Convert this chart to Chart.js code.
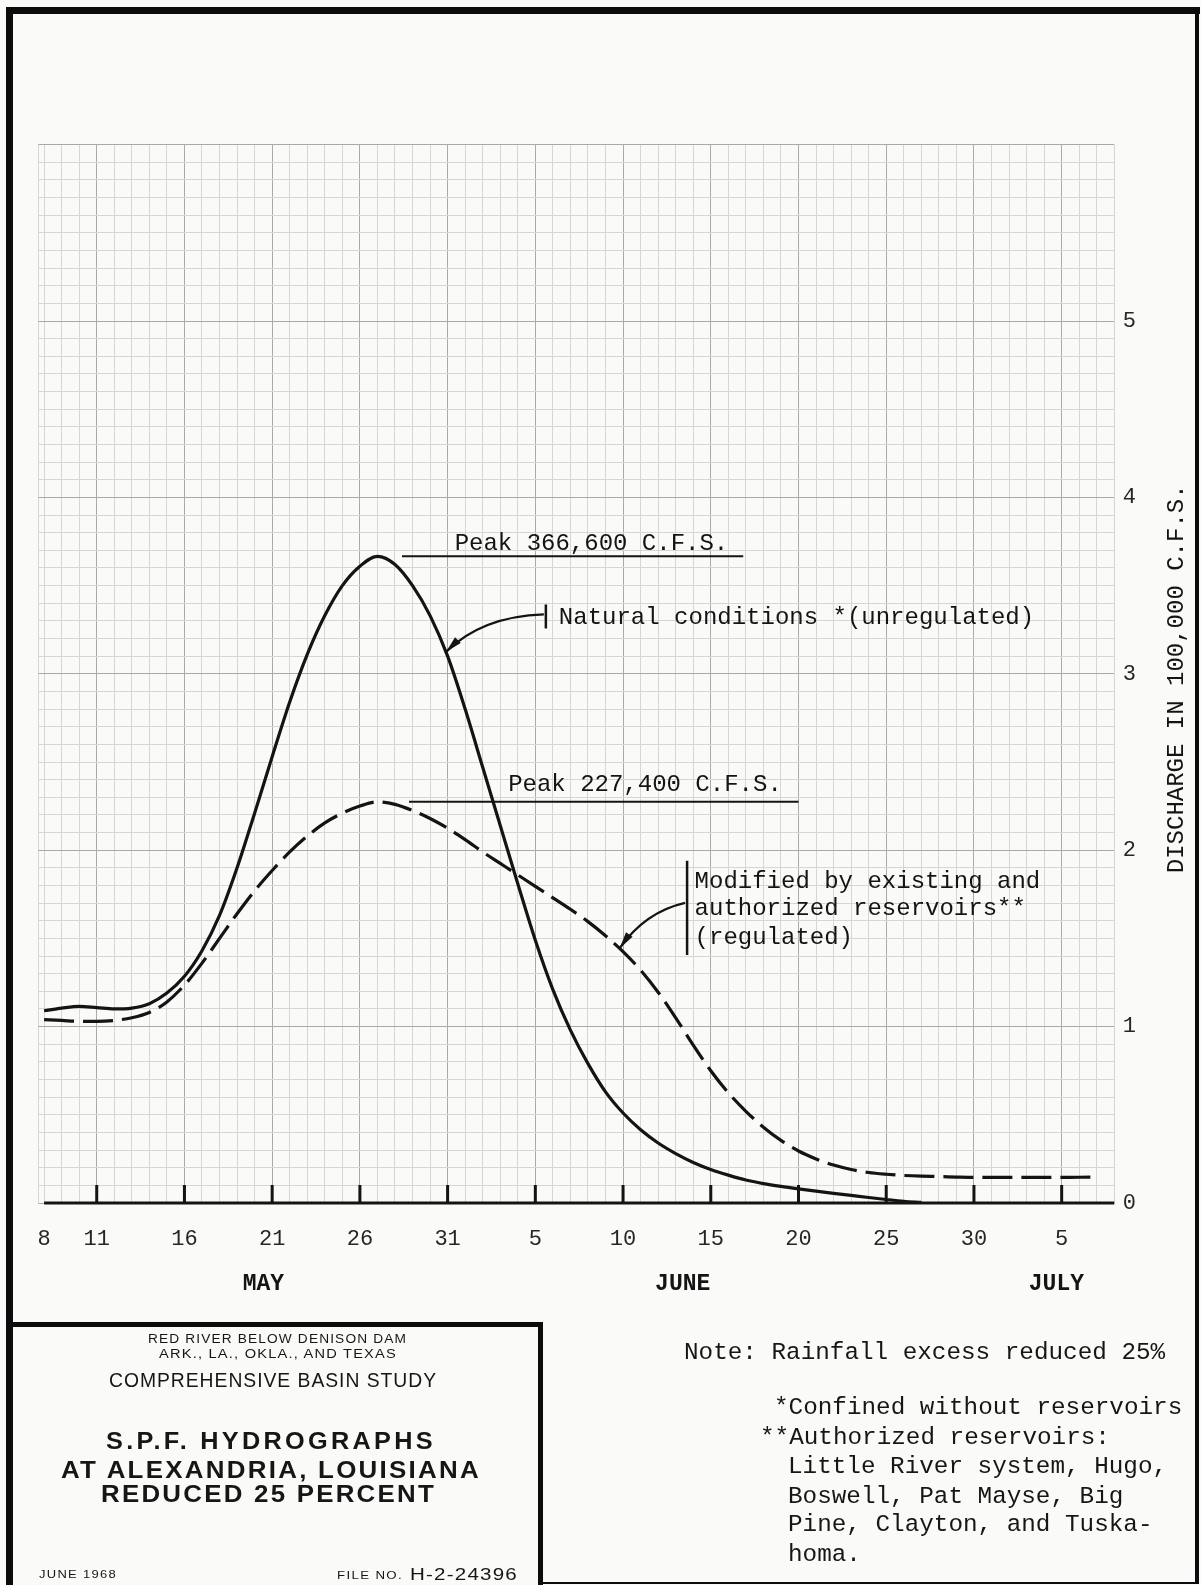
<!DOCTYPE html>
<html>
<head>
<meta charset="utf-8">
<title>S.P.F. Hydrographs at Alexandria, Louisiana</title>
<script src="https://cdn.jsdelivr.net/npm/chart.js@4.4.1/dist/chart.umd.min.js"></script>
<style>
  html, body { margin: 0; padding: 0; background: #fafaf8; }
  #page { position: relative; width: 1201px; height: 1585px; overflow: hidden; }
  #chart { position: absolute; left: 0; top: 0; }
  .txt { position: absolute; white-space: pre; line-height: 1; color: #161616; transform-origin: 0 50%; }
  .lbl { font-family: "Liberation Sans", Arial, sans-serif; }
  .typ { font-family: "Liberation Mono", "Courier New", monospace; font-size: 24.3px; }
</style>
</head>
<body>
<div id="page">
  <canvas id="chart" width="1201" height="1585"></canvas>

  <!-- title block -->
  <div class="txt lbl" data-w="259" style="left:148px; top:1333px; font-size:12px; letter-spacing:1px;">RED RIVER BELOW DENISON DAM</div>
  <div class="txt lbl" data-w="238" style="left:159px; top:1348px; font-size:12px; letter-spacing:1px;">ARK., LA., OKLA., AND TEXAS</div>
  <div class="txt lbl" data-w="328" style="left:109px; top:1370px; font-size:20px; letter-spacing:1px;">COMPREHENSIVE BASIN STUDY</div>
  <div class="txt lbl" data-w="330" style="left:106px; top:1430px; font-size:23px; font-weight:bold; letter-spacing:3px;">S.P.F. HYDROGRAPHS</div>
  <div class="txt lbl" data-w="420" style="left:61px; top:1459px; font-size:23px; font-weight:bold; letter-spacing:2px;">AT ALEXANDRIA, LOUISIANA</div>
  <div class="txt lbl" data-w="335" style="left:101px; top:1483px; font-size:23px; font-weight:bold; letter-spacing:2px;">REDUCED 25 PERCENT</div>
  <div class="txt lbl" data-w="78" style="left:39px; top:1570px; font-size:10px; letter-spacing:1px;">JUNE 1968</div>
  <div class="txt lbl" data-w="66" style="left:337px; top:1571px; font-size:10px; letter-spacing:1px;">FILE NO.</div>
  <div class="txt lbl" data-w="108" style="left:410px; top:1566px; font-size:17px; letter-spacing:1px;">H-2-24396</div>

  <!-- notes -->
  <div class="txt typ" style="left:684px; top:1341px;">Note: Rainfall excess reduced 25%</div>
  <div class="txt typ" style="left:774px; top:1396px;">*Confined without reservoirs</div>
  <div class="txt typ" style="left:760px; top:1426px;">**Authorized reservoirs:</div>
  <div class="txt typ" style="left:788px; top:1455px;">Little River system, Hugo,</div>
  <div class="txt typ" style="left:788px; top:1485px;">Boswell, Pat Mayse, Big</div>
  <div class="txt typ" style="left:788px; top:1513px;">Pine, Clayton, and Tuska-</div>
  <div class="txt typ" style="left:788px; top:1543px;">homa.</div>
</div>

<script>
// x axis: days counted from May 8
const tickDays   = [0, 3, 8, 13, 18, 23, 28, 33, 38, 43, 48, 53, 58];
const tickLabels = ['8', '11', '16', '21', '26', '31', '5', '10', '15', '20', '25', '30', '5'];
const monthNames = ['MAY', 'JUNE', 'JULY'];
const monthDays  = [12.5, 36.4, 57.7];
const dischargeTicks = [0, 1, 2, 3, 4, 5];

// discharge in 100,000 c.f.s., one value per day from May 8
const naturalFlow = [
  1.09, 1.105, 1.115, 1.108, 1.10, 1.105, 1.13, 1.19, 1.285, 1.43,
  1.63, 1.90, 2.21, 2.53, 2.84, 3.11, 3.33, 3.50, 3.61, 3.666,
  3.62, 3.50, 3.33, 3.10, 2.80, 2.47, 2.14, 1.81, 1.49, 1.21,
  0.98, 0.79, 0.63, 0.51, 0.415, 0.34, 0.28, 0.23, 0.19, 0.158,
  0.13, 0.11, 0.094, 0.08, 0.067, 0.055, 0.043, 0.031, 0.02, 0.01,
  0.003
];
const regulatedFlow = [
  1.04, 1.035, 1.03, 1.03, 1.035, 1.05, 1.08, 1.14, 1.235, 1.36,
  1.50, 1.64, 1.77, 1.885, 1.99, 2.08, 2.155, 2.21, 2.25, 2.274,
  2.26, 2.225, 2.18, 2.125, 2.06, 1.99, 1.925, 1.86, 1.795, 1.73,
  1.665, 1.595, 1.515, 1.425, 1.32, 1.195, 1.05, 0.895, 0.75, 0.625,
  0.52, 0.43, 0.355, 0.295, 0.25, 0.215, 0.19, 0.173, 0.163, 0.156,
  0.152, 0.15, 0.147, 0.145, 0.145, 0.145, 0.145, 0.145, 0.145, 0.146,
  0.148
];

const dayMin = -0.33, dayMax = 61, flowMax = 6;
const INK = '#141414';
const MONO = '"Liberation Mono", "Courier New", monospace';

const fmtCfs = v => Math.round(v * 100000).toLocaleString('en-US');

function flowAt(series, day) {
  const i = Math.floor(day), f = day - i;
  return series[i] + (series[i + 1] - series[i]) * f;
}

function arrow(ctx, x0, y0, cx, cy, x1, y1) {
  ctx.beginPath();
  ctx.moveTo(x0, y0);
  ctx.quadraticCurveTo(cx, cy, x1, y1);
  ctx.stroke();
  const a = Math.atan2(y1 - cy, x1 - cx);
  const len = 17, half = 4;
  ctx.beginPath();
  ctx.moveTo(x1, y1);
  ctx.lineTo(x1 - len * Math.cos(a) + half * Math.sin(a), y1 - len * Math.sin(a) - half * Math.cos(a));
  ctx.lineTo(x1 - len * Math.cos(a) - half * Math.sin(a), y1 - len * Math.sin(a) + half * Math.cos(a));
  ctx.closePath();
  ctx.fill();
}

function line(ctx, x0, y0, x1, y1, w) {
  ctx.lineWidth = w;
  ctx.beginPath();
  ctx.moveTo(x0, y0);
  ctx.lineTo(x1, y1);
  ctx.stroke();
}

// axis line, hand ticks, labels, peak notes and the sheet border
const paperExtras = {
  id: 'paperExtras',
  afterDraw(chart) {
    const { ctx, chartArea, scales: { x, y } } = chart;
    const y0 = y.getPixelForValue(0);
    ctx.save();
    ctx.strokeStyle = INK;
    ctx.fillStyle = INK;
    ctx.lineCap = 'butt';

    // base line and ticks
    line(ctx, x.getPixelForValue(0), y0, x.getPixelForValue(dayMax), y0, 3);
    tickDays.forEach(d => {
      if (d === 0) return;
      const px = x.getPixelForValue(d);
      line(ctx, px, y0, px, y0 - 18, 3);
    });

    ctx.textAlign = 'center';
    ctx.textBaseline = 'middle';
    ctx.font = '22px ' + MONO;
    ctx.fillStyle = '#262626';
    tickDays.forEach((d, i) => ctx.fillText(tickLabels[i], x.getPixelForValue(d), y0 + 36));

    ctx.fillStyle = INK;
    ctx.font = 'bold 23px ' + MONO;
    monthDays.forEach((d, i) => ctx.fillText(monthNames[i], x.getPixelForValue(d), y0 + 81));

    ctx.font = '22px ' + MONO;
    ctx.fillStyle = '#262626';
    dischargeTicks.forEach(v => ctx.fillText(String(v), chartArea.right + 15, y.getPixelForValue(v)));

    ctx.save();
    ctx.fillStyle = INK;
    ctx.font = '24px ' + MONO;
    ctx.translate(chartArea.right + 62, (chartArea.top + chartArea.bottom) / 2 + 5);
    ctx.rotate(-Math.PI / 2);
    ctx.fillText('DISCHARGE IN 100,000 C.F.S.', 0, 0);
    ctx.restore();

    // peak notes
    ctx.fillStyle = INK;
    ctx.font = '24px ' + MONO;
    ctx.textAlign = 'left';
    const natPeak = Math.max(...naturalFlow);
    const regPeak = Math.max(...regulatedFlow);
    const pn = y.getPixelForValue(natPeak);
    line(ctx, x.getPixelForValue(20.4), pn, x.getPixelForValue(39.85), pn, 2);
    ctx.fillText('Peak ' + fmtCfs(natPeak) + ' C.F.S.', x.getPixelForValue(23.4), pn - 13);
    const pr = y.getPixelForValue(regPeak);
    line(ctx, x.getPixelForValue(20.8), pr, x.getPixelForValue(43.0), pr, 2);
    ctx.fillText('Peak ' + fmtCfs(regPeak) + ' C.F.S.', x.getPixelForValue(26.45), pr - 17);

    // natural conditions callout
    let bx = x.getPixelForValue(28.6), by = y.getPixelForValue(3.325);
    line(ctx, bx, by - 12, bx, by + 12, 2.5);
    ctx.lineWidth = 2.2;
    arrow(ctx, bx - 2, by - 2, bx - 64, by, x.getPixelForValue(22.9), y.getPixelForValue(flowAt(naturalFlow, 22.9)));
    ctx.fillText('Natural conditions *(unregulated)', bx + 13, by + 1);

    // regulated callout
    bx = x.getPixelForValue(36.65);
    const top = y.getPixelForValue(1.94), bot = y.getPixelForValue(1.406);
    by = (top + bot) / 2;
    line(ctx, bx, top, bx, bot, 2.5);
    ctx.lineWidth = 2.2;
    arrow(ctx, bx - 2, by - 5, bx - 42, by + 4, x.getPixelForValue(32.8), y.getPixelForValue(flowAt(regulatedFlow, 32.8)));
    ctx.fillText('Modified by existing and', bx + 7.5, by - 26.5);
    ctx.fillText('authorized reservoirs**', bx + 7.5, by + 1);
    ctx.fillText('(regulated)', bx + 7.5, by + 30);

    // sheet border and title block frame
    ctx.fillStyle = '#0c0c0c';
    ctx.fillRect(6, 7, 1194, 7);
    ctx.fillRect(6, 7, 7, 1578);
    ctx.fillRect(1195, 7, 4, 1576);
    ctx.fillRect(540, 1582, 659, 2);
    ctx.fillRect(10, 1322, 533, 5);
    ctx.fillRect(538, 1322, 5, 263);
    ctx.restore();
  }
};

const minorGrid = '#d6d6d6';
const majorGrid = '#a9a9a9';

new Chart(document.getElementById('chart').getContext('2d'), {
  type: 'line',
  data: {
    datasets: [
      {
        label: 'Natural conditions',
        data: naturalFlow.map((v, i) => ({ x: i, y: v })),
        borderColor: INK,
        borderWidth: 3.2,
        pointRadius: 0,
        cubicInterpolationMode: 'monotone'
      },
      {
        label: 'Modified by reservoirs',
        data: regulatedFlow.map((v, i) => ({ x: i, y: v })),
        borderColor: INK,
        borderWidth: 3.2,
        borderDash: [30, 9],
        pointRadius: 0,
        cubicInterpolationMode: 'monotone'
      }
    ]
  },
  options: {
    responsive: false,
    animation: false,
    layout: { padding: { left: 38.3, top: 144.6, right: 86.7, bottom: 382 } },
    plugins: { legend: { display: false }, tooltip: { enabled: false } },
    scales: {
      x: {
        type: 'linear',
        min: dayMin,
        max: dayMax,
        afterBuildTicks: s => {
          const t = [{ value: dayMin }];
          for (let d = 0; d <= dayMax; d++) t.push({ value: d });
          s.ticks = t;
        },
        ticks: { display: false },
        border: { display: false },
        grid: {
          drawTicks: false,
          lineWidth: 1,
          color: c => (c.tick && c.tick.value % 5 === 3 ? majorGrid : minorGrid)
        }
      },
      y: {
        position: 'right',
        min: 0,
        max: flowMax,
        afterBuildTicks: s => {
          const t = [];
          for (let i = 0; i <= flowMax * 10; i++) t.push({ value: i / 10 });
          s.ticks = t;
        },
        ticks: { display: false },
        border: { display: false },
        grid: {
          drawTicks: false,
          lineWidth: 1,
          color: c => (c.tick && Math.round(c.tick.value * 10) % 10 === 0 ? majorGrid : minorGrid)
        }
      }
    }
  },
  plugins: [paperExtras]
});

// stretch the lettering of the title block to its ruled widths
document.querySelectorAll('[data-w]').forEach(el => {
  const w = el.getBoundingClientRect().width;
  if (w > 0) el.style.transform = 'scaleX(' + (el.dataset.w / w) + ')';
});
</script>
</body>
</html>
